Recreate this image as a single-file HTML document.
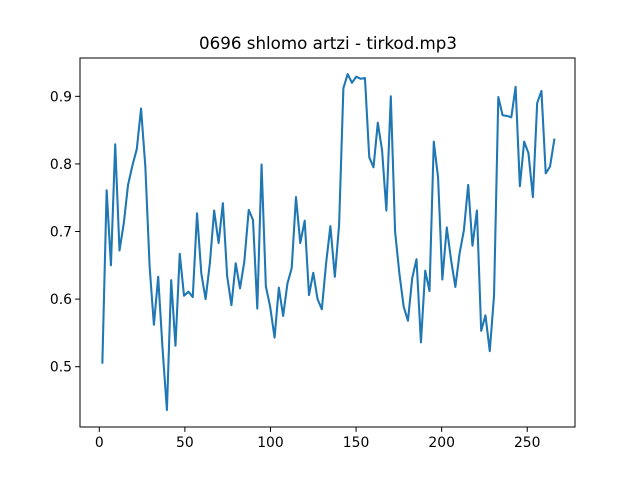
<!DOCTYPE html>
<html><head><meta charset="utf-8"><style>
body{margin:0;background:#fff}
svg text{font-family:"DejaVu Sans","Liberation Sans",sans-serif;fill:#000}
</style></head><body>
<svg id="chart" width="640" height="480" xmlns="http://www.w3.org/2000/svg">
<rect width="640" height="480" fill="#fff"/>
<text x="328" y="49" font-size="16.7" text-anchor="middle">0696 shlomo artzi - tirkod.mp3</text>
<g id="ticks"></g>
<path id="series" fill="none" stroke="#1f77b4" stroke-width="2.08" stroke-linejoin="round" stroke-linecap="square"/>
<rect x="80" y="58" width="495" height="369" fill="none" stroke="#000" stroke-width="1"/>
</svg>
<script>
const times=[1.8,4.3,6.8,9.3,11.8,14.3,16.8,19.4,21.9,24.4,
26.9,29.4,31.9,34.4,37.0,39.5,42.0,44.5,47.0,49.5,
52.1,54.6,57.1,59.6,62.1,64.6,67.1,69.7,72.2,74.7,
77.2,79.7,82.2,84.7,87.3,89.8,92.3,94.8,97.3,99.8,
102.4,104.9,107.4,109.9,112.4,114.9,117.4,120.0,122.5,125.0,
127.5,130.0,132.5,135.0,137.6,140.1,142.6,145.1,147.6,150.1,
152.7,155.2,157.7,160.2,162.7,165.2,167.7,170.3,172.8,175.3,
177.8,180.3,182.8,185.3,187.9,190.4,192.9,195.4,197.9,200.4,
203.0,205.5,208.0,210.5,213.0,215.5,218.0,220.6,223.1,225.6,
228.1,230.6,233.1,235.6,238.2,240.7,243.2,245.7,248.2,250.7,
253.3,255.8,258.3,260.8,263.3,265.8];
const values=[0.506,0.761,0.650,0.829,0.672,0.712,0.769,0.798,0.822,0.882,
0.796,0.648,0.562,0.633,0.525,0.436,0.628,0.531,0.667,0.605,
0.611,0.603,0.727,0.638,0.600,0.653,0.731,0.683,0.742,0.634,
0.591,0.653,0.616,0.655,0.732,
0.717,0.586,0.799,0.619,0.589,0.543,0.617,0.575,0.623,0.646,
0.751,0.683,0.716,0.606,0.639,0.600,0.585,0.653,0.708,0.633,
0.710,0.912,0.933,0.920,0.929,0.926,0.927,0.810,0.795,0.861,
0.820,0.731,0.900,0.700,0.638,0.589,0.568,
0.631,0.659,0.536,0.642,0.612,0.833,0.780,0.629,0.706,0.658,
0.618,0.668,0.702,0.769,0.679,0.731,0.553,0.576,0.523,0.605,
0.899,0.872,0.871,0.869,0.914,0.767,0.833,0.816,0.751,0.890,
0.908,0.786,0.796,0.836];
const xTicks=[0,50,100,150,200,250];
const yTicks=[0.5,0.6,0.7,0.8,0.9];
const yTickLabels=["0.5","0.6","0.7","0.8","0.9"];
const L=80,R=575,T=58,B=427;
const xMin=-11.27,xMax=277.9,yMin=0.4108,yMax=0.9567;
const sx=v=>L+(v-xMin)/(xMax-xMin)*(R-L);
const sy=v=>B-(v-yMin)/(yMax-yMin)*(B-T);
const NS="http://www.w3.org/2000/svg";
const g=document.getElementById('ticks');
xTicks.forEach(t=>{
  const x=sx(t);
  const l=document.createElementNS(NS,'line');
  l.setAttribute('x1',x);l.setAttribute('x2',x);l.setAttribute('y1',B);l.setAttribute('y2',B+4.9);
  l.setAttribute('stroke','#000');l.setAttribute('stroke-width','1');
  
  
  g.appendChild(l);
  const tx=document.createElementNS(NS,'text');
  tx.setAttribute('x',x);tx.setAttribute('y',B+20);tx.setAttribute('font-size','13.9');tx.setAttribute('text-anchor','middle');
  tx.textContent=String(t);
  
  
  g.appendChild(tx);
});
yTicks.forEach((t,i)=>{
  const y=sy(t);
  const l=document.createElementNS(NS,'line');
  l.setAttribute('x1',L-4.9);l.setAttribute('x2',L);l.setAttribute('y1',y);l.setAttribute('y2',y);
  l.setAttribute('stroke','#000');l.setAttribute('stroke-width','1');
  
  
  g.appendChild(l);
  const tx=document.createElementNS(NS,'text');
  tx.setAttribute('x',L-8);tx.setAttribute('y',y+5);tx.setAttribute('font-size','13.9');tx.setAttribute('text-anchor','end');
  tx.textContent=yTickLabels[i];
  
  
  g.appendChild(tx);
});
document.getElementById('series').setAttribute('d',values.map((v,i)=>(i?'L':'M')+sx(times[i]).toFixed(2)+','+sy(v).toFixed(2)).join(''));
</script>
</body></html>
